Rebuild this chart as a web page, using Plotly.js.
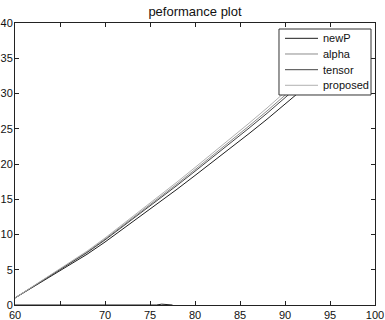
<!DOCTYPE html>
<html>
<head>
<meta charset="utf-8">
<script src="https://cdn.plot.ly/plotly-3.0.1.min.js"></script>
<style>html,body{margin:0;padding:0;background:#fff;}#chart{width:385px;height:320px;}</style>
</head>
<body>
<div id="chart"></div>
<script>
const xVals = [60,62,64,66,68,70,72,74,76,78,80,82,84,86,88,90,92,94,96];
const newP = [1.0,2.55,3.99,5.54,7.19,8.93,10.78,12.63,14.57,16.42,18.37,20.31,22.36,24.31,26.35,28.5,30.65,32.79,34.94];
const alpha = [1.0,2.63,4.16,5.79,7.52,9.35,11.28,13.21,15.24,17.17,19.2,21.23,23.36,25.39,27.52,29.75,31.98,34.21,36.44];
const tensor = [1.0,2.61,4.11,5.72,7.43,9.23,11.14,13.05,15.05,16.96,18.97,20.97,23.08,25.09,27.19,29.4,31.61,33.81,36.02];
const proposed = [1.0,2.66,4.22,5.88,7.64,9.5,11.46,13.42,15.48,17.44,19.5,21.56,23.72,25.78,27.94,30.2,32.46,34.72,36.98];
const tailX = [60,75.7,76.3,77.0,77.5];
const tailY = [0.0,0.0,0.12,0.06,0.0];
const seriesNames = ['newP','alpha','tensor','proposed'];
const xTickVals = [60,65,70,75,80,85,90,95,100];
const xTickText = ['60','','70','75','80','85','90','95','100'];
const yTickVals = [0,5,10,15,20,25,30,35,40];

const colors = ['#1e1e1e','#8c8c8c','#444444','#b0b0b0'];
const seriesData = [newP, alpha, tensor, proposed];
const traces = seriesData.map((ys,i)=>({
  x: xVals, y: ys, type:'scatter', mode:'lines', name: seriesNames[i],
  line:{color:colors[i], width:1}, showlegend:false
}));
traces.push({x: tailX, y: tailY, type:'scatter', mode:'lines', showlegend:false,
  line:{color:'#1e1e1e', width:1}, hoverinfo:'skip', cliponaxis:false});

const FONT = 'Liberation Sans, Arial, sans-serif';
// legend drawn as shapes + annotations (paper coords)
const legBox = {x0:0.7333, x1:0.9889, y0:0.7447, y1:0.9787};
const legRows = [0.9457, 0.8901, 0.8344, 0.7791];
const shapes = [{type:'rect', xref:'paper', yref:'paper', x0:legBox.x0, x1:legBox.x1, y0:legBox.y0, y1:legBox.y1,
  fillcolor:'#fff', line:{color:'#333', width:1}, layer:'above'}];
const annotations = [];
seriesNames.forEach((n,i)=>{
  shapes.push({type:'line', xref:'paper', yref:'paper', x0:0.75, x1:0.8417, y0:legRows[i], y1:legRows[i],
    line:{color:colors[i], width:1}, layer:'above'});
  annotations.push({xref:'paper', yref:'paper', x:0.8528, y:legRows[i], xanchor:'left', yanchor:'middle',
    text:n, showarrow:false, borderpad:0, font:{family:FONT, size:11, color:'#111'}});
});

const axisCommon = {
  showline:true, linecolor:'#222', linewidth:1, mirror:'ticks',
  ticks:'inside', ticklen:4, tickcolor:'#222', showgrid:false, zeroline:false,
  automargin:false, fixedrange:true
};
const layout = {
  width:385, height:320,
  margin:{l:15, r:10, t:23, b:15},
  paper_bgcolor:'#fff', plot_bgcolor:'#fff',
  title:{text:'peformance plot', x:0.5, xref:'paper', xanchor:'center', y:0.978, yref:'container',
    font:{family:FONT, size:13, color:'#111'}},
  xaxis:Object.assign({}, axisCommon, {range:[60,100], tickvals:xTickVals, ticktext:xTickText,
    ticklabelstandoff:0, ticklabeloverflow:'allow', tickfont:{family:FONT, size:11, color:'#111'}}),
  yaxis:Object.assign({}, axisCommon, {range:[0,40], tickvals:yTickVals, ticklabelstandoff:-1,
    ticklabeloverflow:'allow', tickfont:{family:FONT, size:11, color:'#111'}}),
  showlegend:false,
  shapes:shapes, annotations:annotations,
  hovermode:false
};
Plotly.newPlot('chart', traces, layout, {staticPlot:true, displayModeBar:false});
</script>
</body>
</html>
